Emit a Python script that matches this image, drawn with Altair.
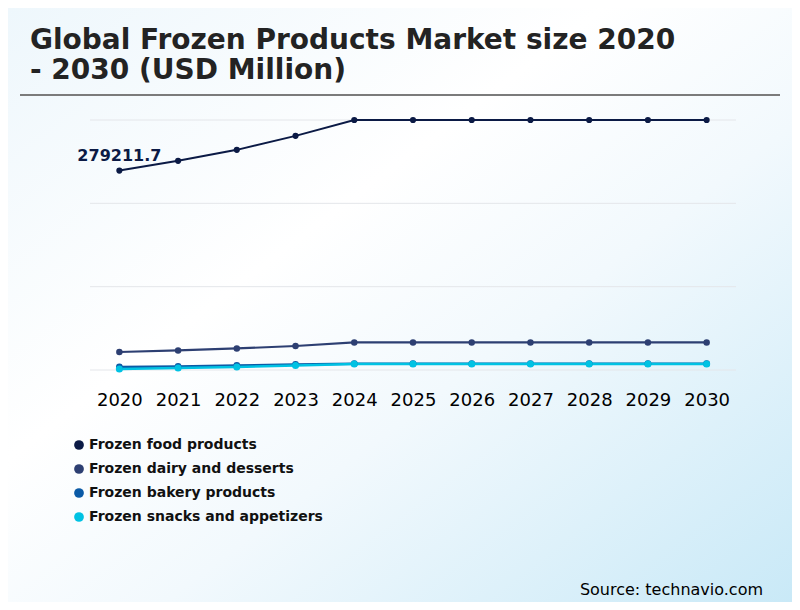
import altair as alt
import pandas as pd

years = ["2020", "2021", "2022", "2023", "2024", "2025", "2026", "2027", "2028", "2029", "2030"]
series_names = [
    "Frozen food products",
    "Frozen dairy and desserts",
    "Frozen bakery products",
    "Frozen snacks and appetizers",
]
food = [279211.7, 292800, 308200, 327800, 350000, 350000, 350000, 350000, 350000, 350000, 350000]
dairy = [25200, 27400, 30200, 33600, 38600, 38600, 38600, 38600, 38600, 38600, 38600]
bakery = [4200, 4900, 6300, 7700, 8800, 8800, 8800, 8800, 8800, 8800, 8800]
snacks = [1400, 2800, 4200, 6300, 8500, 8500, 8500, 8500, 8500, 8500, 8500]
colors = ["#0b1a45", "#2d3f72", "#0b5aa6", "#00c2e3"]
grid_values = [0, 116666.7, 233333.3, 350000]

TITLE = ["Global Frozen Products Market size 2020", "- 2030 (USD Million)"]
SOURCE = "Source: technavio.com"
FIRST_LABEL = "279211.7"

rows = []
for k, (name, vals) in enumerate(zip(series_names, [food, dairy, bakery, snacks])):
    for y, v in zip(years, vals):
        rows.append({"year": y, "series": name, "value": v, "order": k})
df = pd.DataFrame(rows)

FONT = "DejaVu Sans"
ORDER_DOMAIN = [0, 1, 2, 3]

x_enc = alt.X(
    "year:O",
    scale=alt.Scale(type="point", padding=0.5),
    axis=alt.Axis(
        title=None, labelAngle=0, ticks=False, domain=False, grid=False,
        labelFontSize=18, labelFont=FONT, labelColor="#000000", labelPadding=21,
        zindex=1,
    ),
)
y_scale = alt.Scale(domain=[0, 350000], nice=False, zero=False)
y_enc = alt.Y("value:Q", scale=y_scale, axis=None)
color_scale = alt.Scale(domain=series_names, range=colors)

bg_df = pd.DataFrame({"k": [0]})
background = alt.Chart(bg_df).mark_rect(
    fill=alt.Gradient(
        gradient="linear",
        stops=[
            alt.GradientStop(color="#eef7fc", offset=0),
            alt.GradientStop(color="#ffffff", offset=0.38),
            alt.GradientStop(color="#f2f9fd", offset=0.6),
            alt.GradientStop(color="#c9e9f7", offset=1),
        ],
        x1=0, y1=0, x2=1, y2=1,
    )
).encode(
    x=alt.value(-82), x2=alt.value(702), y=alt.value(-112), y2=alt.value(482)
)

rule = alt.Chart(bg_df).mark_rule(color="#7b7b7b", strokeWidth=2).encode(
    x=alt.value(-70), x2=alt.value(690), y=alt.value(-25)
)

grid_df = pd.DataFrame({"g": grid_values})
grid = alt.Chart(grid_df).mark_rule(color="#e4e6ea", strokeWidth=1).encode(
    y=alt.Y("g:Q", scale=y_scale, axis=None),
    x=alt.value(0), x2=alt.value(646),
)

base = alt.Chart(df)

lines = base.mark_line().encode(
    x=x_enc,
    y=y_enc,
    stroke=alt.Stroke("order:O", scale=alt.Scale(domain=ORDER_DOMAIN, range=colors), legend=None),
    strokeWidth=alt.StrokeWidth(
        "order:O",
        scale=alt.Scale(domain=ORDER_DOMAIN, range=[2, 2.5, 2.5, 3]),
        legend=None,
    ),
    order=alt.Order("order:Q"),
)

points = base.mark_point(filled=True, opacity=1).encode(
    x=x_enc,
    y=y_enc,
    color=alt.Color(
        "series:N",
        scale=color_scale,
        legend=alt.Legend(
            title=None, orient="none", legendX=-18, legendY=318,
            symbolType="circle", symbolSize=95, symbolStrokeWidth=0,
            labelFont=FONT, labelFontSize=14, labelFontWeight="bold",
            labelColor="#111111", labelOffset=3, rowPadding=10, padding=0,
            labelLimit=400, zindex=1,
        ),
    ),
    size=alt.Size(
        "order:O",
        scale=alt.Scale(domain=ORDER_DOMAIN, range=[38, 50, 52, 55]),
        legend=None,
    ),
)

label_df = pd.DataFrame({"year": [years[0]], "value": [food[0]], "label": [FIRST_LABEL]})
first_label = alt.Chart(label_df).mark_text(
    font=FONT, fontSize=16, fontWeight="bold", color="#0b1a45",
    align="center", baseline="alphabetic", dy=-10,
).encode(x=x_enc, y=y_enc, text="label:N")

src_df = pd.DataFrame({"t": [SOURCE]})
source = alt.Chart(src_df).mark_text(
    font=FONT, fontSize=16, color="#000000", align="right", baseline="alphabetic",
).encode(x=alt.value(673), y=alt.value(475), text="t:N")

chart = alt.layer(background, rule, grid, lines, points, first_label, source).properties(
    width=646,
    height=250,
    autosize=alt.AutoSizeParams(type="none"),
    padding={"left": 82, "top": 112, "right": 56, "bottom": 232},
    title=alt.TitleParams(
        text=TITLE, anchor="start", frame="group", dx=-60, offset=-77,
        font=FONT, fontSize=28, fontWeight="bold", color="#232323", lineHeight=30,
        zindex=1,
    ),
).configure_view(stroke=None).configure(background="#ffffff")

chart.save("out.html", embed_options={"renderer": "svg", "actions": False})
